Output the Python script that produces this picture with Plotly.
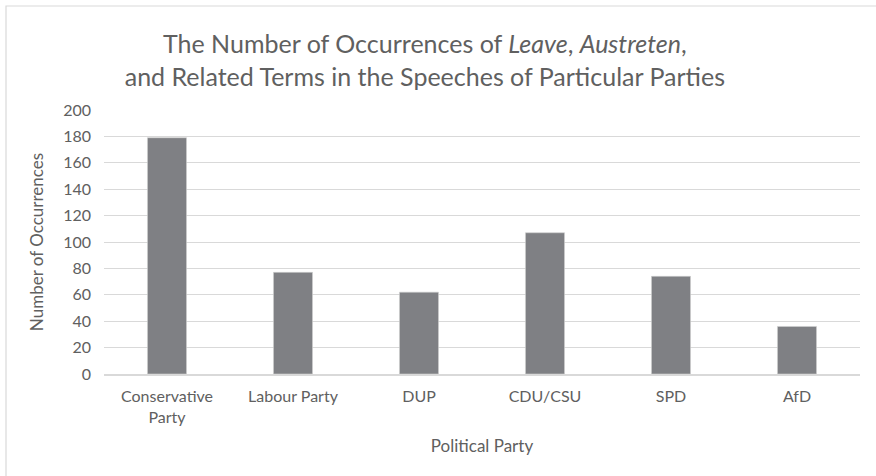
import plotly.graph_objects as go

parties = ["Conservative<br>Party", "Labour Party", "DUP", "CDU/CSU", "SPD", "AfD"]
occurrences = [179, 77, 62, 107, 74, 36]
y_ticks = list(range(0, 201, 20))

W, H = 876, 476
L, R, T, B = 104, 16, 110, 102
pw, ph = W - L - R, H - T - B

def px_x(x):
    return (x - L) / pw

def px_y(y):
    return (H - B - y) / ph

FONT = "Lato"
GREY = "#606060"

fig = go.Figure(go.Bar(
    x=parties, y=occurrences,
    marker=dict(color="#7f8084", line=dict(color="#d0d0d0", width=0.6)),
    width=0.31,
))

fig.update_layout(
    width=W, height=H,
    margin=dict(l=L, r=R, t=T, b=B),
    paper_bgcolor="white", plot_bgcolor="white",
    font=dict(family=FONT, color=GREY, size=16),
    showlegend=False,
    title=dict(
        text="The Number of Occurrences of <i>Leave</i>, <i>Austreten</i>,<br>and Related Terms in the Speeches of Particular Parties",
        x=0.485, xref="container", xanchor="center",
        y=1 - 53 / H, yref="container", yanchor="middle",
        font=dict(family=FONT, size=25, color=GREY),
    ),
    xaxis=dict(
        title=dict(text="Political Party", font=dict(size=17, color=GREY), standoff=15),
        showgrid=False, showline=True, linecolor="#d9d9d9", linewidth=1.5,
        ticks="", tickfont=dict(size=16, color=GREY),
        ticklabelstandoff=7,
    ),
    yaxis=dict(
        title=dict(text="Number of Occurrences", font=dict(size=17, color=GREY), standoff=15),
        range=[0, 200], tickvals=y_ticks, showgrid=True, gridcolor="#d9d9d9", gridwidth=1,
        zeroline=False, showline=False, ticks="", tickfont=dict(size=16, color=GREY),
        ticklabelstandoff=12,
    ),
    shapes=[dict(type="rect", xref="paper", yref="paper",
                 x0=px_x(6), x1=px_x(882), y0=px_y(482), y1=px_y(6),
                 line=dict(color="#d9d9d9", width=1.2), layer="below")],
)

fig.write_html("out.html")
